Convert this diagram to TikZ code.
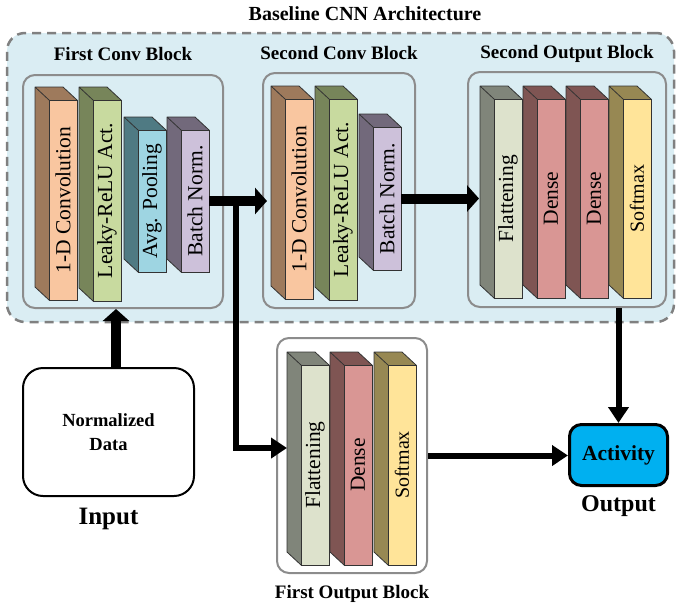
\documentclass[tikz,border=0pt]{standalone}
\usepackage{fontspec}
\setmainfont{Liberation Serif}
\usetikzlibrary{positioning,calc}
\usetikzlibrary{arrows.meta}

% layer colours (front face / side face)
\definecolor{convfront}{HTML}{F9C6A0}
\definecolor{convside}{HTML}{9E7A5C}
\definecolor{relufront}{HTML}{C8DA9F}
\definecolor{reluside}{HTML}{77855A}
\definecolor{poolfront}{HTML}{9ED5E2}
\definecolor{poolside}{HTML}{4F7A83}
\definecolor{normfront}{HTML}{CDC1DA}
\definecolor{normside}{HTML}{72697B}
\definecolor{flatfront}{HTML}{DDE2CC}
\definecolor{flatside}{HTML}{80857A}
\definecolor{densefront}{HTML}{D99694}
\definecolor{denseside}{HTML}{7F5553}
\definecolor{softfront}{HTML}{FFE499}
\definecolor{softside}{HTML}{978853}
\definecolor{basebg}{HTML}{DAEDF3}
\definecolor{activity}{HTML}{00B0F0}

\tikzset{
        % front face of a layer
        layerface/.style={draw=black!80, line width=0.8pt, inner sep=0pt, outer sep=0pt, minimum width=28pt, font=\fontsize{21.5}{24}\selectfont},
        % side and top faces of a layer
        layerside/.style={draw=black!80, line width=0.8pt, line join=round},
        % boxes round the blocks
        blockbox/.style={draw=black!45, line width=2pt, rounded corners=12pt, inner sep=0pt},
        outerbox/.style={draw=black!50, line width=2.5pt, dash pattern=on 9pt off 6pt, fill=basebg, rounded corners=18pt, inner sep=0pt},
        % texts
        blocklabel/.style={font=\bfseries\fontsize{19}{22}\selectfont, inner sep=0pt, text depth=0pt},
        biglabel/.style={font=\bfseries\fontsize{25}{28}\selectfont, inner sep=0pt},
        % arrows
        bigarrow/.style={line width=10pt, -{Triangle[length=12pt,width=26pt]}},
        smallarrow/.style={line width=6pt, -{Triangle[length=16pt,width=20pt]}}
}

% #1 name, #2 x, #3 y (top left of front face), #4 height, #5 colour, #6 text
\newcommand{\cnnlayer}[6]{%
  \filldraw[layerside, fill=#5side] (#2,#3) -- ++(-14,-13) -- ++(28,0) -- ++(14,13) -- ++(0,#4) -- ++(-28,0) -- ++(-14,-13) -- ++(0,-#4) -- cycle;
  \node[layerface, fill=#5front, minimum height=#4pt, anchor=north west] (#1) at (#2,#3) {\rotatebox{90}{#6}};
}

\begin{document}
\begin{tikzpicture}[x=1pt, y=-1pt]
    \useasboundingbox (0,0) rectangle (678,603);

    % baseline architecture
    \node[outerbox, minimum width=667pt, minimum height=289pt] (baseline) at (340.5,177.5) {};
    \node[blocklabel, font=\bfseries\fontsize{20}{24}\selectfont] (title) at (365,14) {Baseline CNN Architecture};

    % first conv block
    \node[blockbox, minimum width=200pt, minimum height=233pt] (conv1box) at (123,191.5) {};
    \node[blocklabel, above=13pt of conv1box] (conv1label) {First Conv Block};
    \cnnlayer{c1conv}{49}{100}{200}{conv}{1-D Convolution}
    \cnnlayer{c1relu}{93}{100}{201}{relu}{Leaky-ReLU Act.}
    \cnnlayer{c1pool}{138}{130}{142}{pool}{Avg. Pooling}
    \cnnlayer{c1bn}{181}{130}{142}{norm}{Batch Norm.}

    % second conv block
    \node[blockbox, minimum width=152pt, minimum height=235pt] (conv2box) at (339,190.5) {};
    \node[blocklabel, above=12pt of conv2box] (conv2label) {Second Conv Block};
    \cnnlayer{c2conv}{285}{99}{200}{conv}{1-D Convolution}
    \cnnlayer{c2relu}{329}{99}{201}{relu}{Leaky-ReLU Act.}
    \cnnlayer{c2bn}{373}{127}{143}{norm}{Batch Norm.}

    % second output block
    \node[blockbox, minimum width=198pt, minimum height=235pt] (out2box) at (567,189.5) {};
    \node[blocklabel, above=12pt of out2box] (out2label) {Second Output Block};
    \cnnlayer{o2flat}{494}{99}{199}{flat}{Flattening}
    \cnnlayer{o2dense}{537}{99}{199}{dense}{Dense}
    \cnnlayer{o2densetwo}{580}{99}{199}{dense}{Dense}
    \cnnlayer{o2soft}{623}{99}{199}{soft}{\fontsize{20}{24}\selectfont Softmax}

    % first output block
    \node[blockbox, fill=white, minimum width=150pt, minimum height=235pt] (out1box) at (352,455.5) {};
    \node[blocklabel, below=11pt of out1box] (out1label) {First Output Block};
    \cnnlayer{o1flat}{301}{365}{200}{flat}{Flattening}
    \cnnlayer{o1dense}{344}{365}{200}{dense}{Dense}
    \cnnlayer{o1soft}{388}{365}{200}{soft}{\fontsize{20}{24}\selectfont Softmax}

    % input and output
    \node[draw, line width=2pt, rounded corners=20pt, fill=white, minimum width=171pt, minimum height=128pt, align=center,
          font=\bfseries\fontsize{18.5}{24}\selectfont] (input) at (108.5,432) {Normalized\\Data};
    \node[biglabel, below=11pt of input] (inputlabel) {Input};
    \node[draw, line width=3pt, rounded corners=12pt, fill=activity, minimum width=98pt, minimum height=61pt,
          font=\bfseries\fontsize{21.5}{24}\selectfont] (act) at (618.5,455) {Activity};
    \node[biglabel, font=\bfseries\fontsize{24}{28}\selectfont, below=8pt of act] (outputlabel) {Output};

    % connections
    \draw[bigarrow] ($(input.north)+(7.5,0)$) coordinate (inup) -- (inup |- conv1box.south);
    \draw[bigarrow] (c1bn.east) -- ($(c1bn.east -| conv2box.west)+(5,0)$);
    \coordinate (split) at ($(c1bn.east)!0.5!(c1bn.east -| conv2box.west)$);
    \draw[smallarrow] (split) |- ($(out1box.west)+(11,-7.5)$);
    \draw[bigarrow] (c2bn.east) -- ($(c2bn.east -| out2box.west)+(12,0)$);
    \draw[smallarrow] (act.north |- out2box.south) -- (act.north);
    \draw[smallarrow] (out1box.east) -- (out1box.east -| act.west);
\end{tikzpicture}
\end{document}
